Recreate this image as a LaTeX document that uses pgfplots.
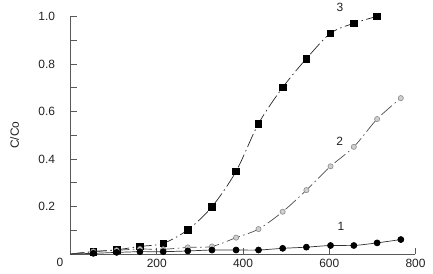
\documentclass[border=0pt]{standalone}
\usepackage{pgfplots}
\pgfplotsset{compat=1.18}
\usepackage{fontspec}
\setmainfont{Liberation Sans}
\definecolor{axgrey}{HTML}{5A5A5A}
\definecolor{txt}{HTML}{222222}
\definecolor{s2fill}{HTML}{CFCFCF}
\definecolor{s2edge}{HTML}{8A8A8A}
\begin{document}
\begin{tikzpicture}
\begin{axis}[
  scale only axis, width=345bp, height=237.7bp,
  xmin=0, xmax=800, ymin=0, ymax=1,
  axis lines=left, axis line style={axgrey, line width=0.8bp, -},
  clip=false,
  font=\fontsize{12}{14}\selectfont, color=txt,
  /pgf/number format/assume math mode=true,
  xtick={200,400,600,800}, xticklabels={200,400,600,800},
  ytick={0.2,0.4,0.6,0.8,1.0}, yticklabels={0.2,0.4,0.6,0.8,1.0},
  minor ytick={0.1,0.3,0.5,0.7,0.9},
  tick align=inside,
  major tick length=6.5bp, minor tick length=6.5bp,
  xtick style={axgrey, line width=0.7bp},
  ytick style={axgrey, line width=0.7bp},
  minor tick style={axgrey, line width=0.7bp},
  yticklabel style={anchor=east, xshift=-12bp, text=txt},
  xticklabel style={yshift=-2bp, text=txt},
  ylabel={C/Co}, ylabel style={text=txt, at={(axis description cs:0,0.5)}, anchor=south, xshift=0bp, yshift=48bp},
]
% series 3
\addplot[smooth, black!85, line width=0.7bp, dash pattern=on 14bp off 3.5bp on 1.5bp off 3.5bp,
  mark=square*, mark size=3.3bp, mark options={solid, fill=black, draw=black}, mark indices={2,...,14}]
  coordinates {(0,0) (53,0.010) (107,0.018) (161,0.032) (215,0.045) (272,0.102) (328,0.199) (384,0.348)
  (436,0.549) (492,0.701) (547,0.822) (603,0.929) (657,0.971) (711,1.0)};
% series 2
\addplot[smooth, black!70, line width=0.7bp, dash pattern=on 14bp off 3.5bp on 1.5bp off 3.5bp,
  mark=*, mark size=2.6bp, mark options={solid, fill=s2fill, draw=s2edge, line width=0.6bp}, mark indices={2,...,15}]
  coordinates {(0,0) (53,0.011) (107,0.016) (161,0.021) (215,0.020) (272,0.028) (328,0.032) (384,0.069)
  (436,0.105) (492,0.178) (547,0.269) (603,0.369) (657,0.451) (711,0.568) (766,0.656)};
% series 1
\addplot[smooth, black!80, line width=0.7bp,
  mark=*, mark size=3bp, mark options={fill=black, draw=black}, mark indices={2,...,15}]
  coordinates {(0,0) (53,0.003) (107,0.007) (161,0.010) (215,0.010) (272,0.013) (328,0.017) (384,0.017)
  (436,0.017) (492,0.024) (547,0.029) (603,0.036) (657,0.036) (711,0.047) (766,0.061)};
\node[text=txt] at (axis cs:625,1.037) {3};
\node[text=txt] at (axis cs:624,0.474) {2};
\node[text=txt] at (axis cs:627,0.116) {1};
\node[text=txt, anchor=center] at ([shift={(-10.5bp,-8.7bp)}]axis cs:0,0) {0};
\end{axis}
\path ([shift={(-70.5bp,-19.7bp)}]current axis.south west) rectangle ([shift={(17.5bp,15.6bp)}]current axis.north east);
\end{tikzpicture}
\end{document}
